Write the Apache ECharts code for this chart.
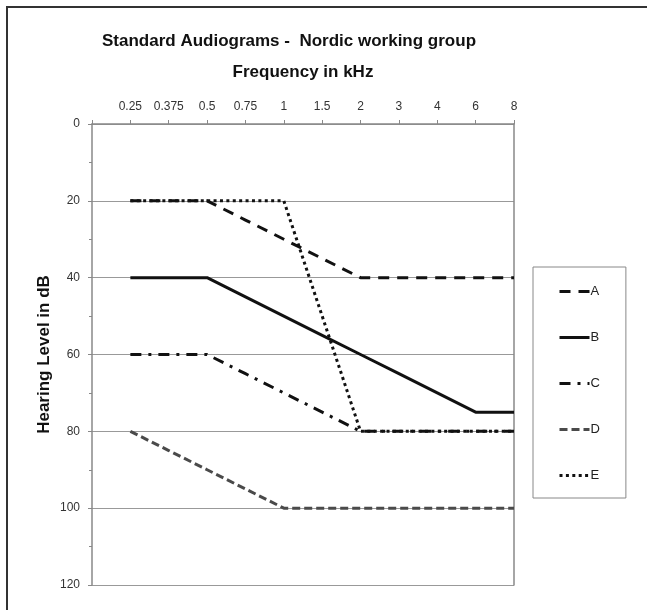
<!DOCTYPE html>
<html>
<head>
<meta charset="utf-8">
<script src="https://cdn.jsdelivr.net/npm/echarts@6/dist/echarts.min.js"></script>
<style>
html,body{margin:0;padding:0;background:#fff;}
#chart{width:647px;height:610px;}
</style>
</head>
<body>
<div id="chart"></div>
<script>
const titleText = 'Standard Audiograms -  Nordic working group';
const xAxisName = 'Frequency in kHz';
const yAxisName = 'Hearing Level in dB';
const freqLabels = ['0.25', '0.375', '0.5', '0.75', '1', '1.5', '2', '3', '4', '6', '8'];
const categories = [''].concat(freqLabels);
const seriesNames = ['A', 'B', 'C', 'D', 'E'];
const valuesA = [20, 20, 20, 25, 30, 35, 40, 40, 40, 40, 40];
const valuesB = [40, 40, 40, 45, 50, 55, 60, 65, 70, 75, 75];
const valuesC = [60, 60, 60, 65, 70, 75, 80, 80, 80, 80, 80];
const valuesD = [80, 85, 90, 95, 100, 100, 100, 100, 100, 100, 100];
const valuesE = [20, 20, 20, 20, 20, 50, 80, 80, 80, 80, 80];
const yMin = 0, yMax = 120, yInterval = 20;

const FONT = "'Liberation Sans', Arial, sans-serif";
const pairs = vals => freqLabels.map((f, i) => [f, vals[i]]);

const styles = [
  { color: '#111', type: [11, 8] },
  { color: '#111', type: 'solid' },
  { color: '#111', type: [11, 7, 3, 7] },
  { color: '#4a4a4a', type: [8, 4] },
  { color: '#111', type: [3, 3.4] }
];
const allValues = [valuesA, valuesB, valuesC, valuesD, valuesE];

const chart = echarts.init(document.getElementById('chart'), null, { renderer: 'canvas' });
chart.setOption({
  animation: false,
  backgroundColor: '#fff',
  textStyle: { fontFamily: FONT },
  title: {
    text: titleText,
    left: 102,
    top: 33,
    padding: 0,
    textStyle: { fontFamily: FONT, fontSize: 17, fontWeight: 'bold', color: '#111' }
  },
  graphic: [{
    type: 'rect',
    shape: { x: 7, y: 7, width: 700, height: 700 },
    style: { fill: 'none', stroke: '#333', lineWidth: 2 },
    silent: true,
    z: 100
  }],
  grid: { left: 92, right: 133, top: 124, bottom: 25, containLabel: false },
  legend: {
    orient: 'vertical',
    left: 533,
    top: 267,
    padding: [18, 26, 16, 25],
    itemWidth: 30,
    itemHeight: 14,
    itemGap: 33,
    borderColor: '#888',
    borderWidth: 1,
    backgroundColor: '#fff',
    itemStyle: { opacity: 0, borderWidth: 0 },
    lineStyle: { width: 3 },
    textStyle: { fontFamily: FONT, fontSize: 13, color: '#222', padding: [0, 0, 0, -4] },
    data: seriesNames
  },
  xAxis: {
    type: 'category',
    position: 'top',
    data: categories,
    boundaryGap: false,
    name: xAxisName,
    nameLocation: 'middle',
    nameGap: 43,
    nameMoveOverlap: false,
    nameTextStyle: { fontFamily: FONT, fontSize: 17, fontWeight: 'bold', color: '#111' },
    axisLine: { show: true, lineStyle: { color: '#888', width: 1.5 } },
    axisTick: { show: true, length: 4, lineStyle: { color: '#888', width: 1 } },
    axisLabel: { show: true, interval: 0, margin: 11, fontSize: 12, color: '#333', fontFamily: FONT },
    splitLine: { show: false }
  },
  yAxis: [{
    type: 'value',
    inverse: true,
    min: yMin,
    max: yMax,
    interval: yInterval,
    name: yAxisName,
    nameLocation: 'middle',
    nameRotate: 90,
    nameGap: 39,
    nameMoveOverlap: false,
    nameTextStyle: { fontFamily: FONT, fontSize: 17, fontWeight: 'bold', color: '#111' },
    axisLine: { show: true, lineStyle: { color: '#888', width: 1.5 } },
    axisTick: { show: true, length: 4, lineStyle: { color: '#888', width: 1 } },
    minorTick: { show: true, splitNumber: 2, length: 3, lineStyle: { color: '#888', width: 1 } },
    axisLabel: { margin: 12, fontSize: 12, color: '#333', fontFamily: FONT },
    splitLine: { show: true, lineStyle: { color: '#999', width: 1.2 } }
  }, {
    type: 'value',
    position: 'right',
    inverse: true,
    min: yMin,
    max: yMax,
    interval: yInterval,
    axisLine: { show: true, onZero: false, lineStyle: { color: '#888', width: 1.5 } },
    axisTick: { show: false },
    axisLabel: { show: false },
    splitLine: { show: false }
  }],
  series: seriesNames.map((name, k) => ({
    name: name,
    type: 'line',
    yAxisIndex: 0,
    data: pairs(allValues[k]),
    symbol: 'none',
    showSymbol: false,
    itemStyle: { color: styles[k].color },
    lineStyle: { color: styles[k].color, width: 3, type: styles[k].type },
    z: 3
  }))
});
</script>
</body>
</html>
